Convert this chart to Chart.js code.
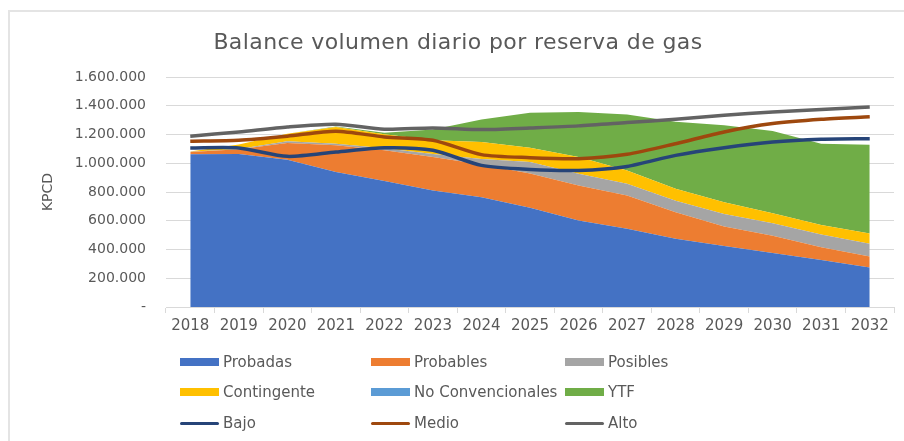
<!DOCTYPE html>
<html>
<head>
<meta charset="utf-8">
<script src="https://cdn.jsdelivr.net/npm/chart.js@4.4.1/dist/chart.umd.min.js"></script>
<style>
	html, body { margin: 0; padding: 0; background: #fff; }
	.wrap { position: relative; width: 904px; height: 441px; overflow: hidden; font-family: 'DejaVu Sans', sans-serif; color: #595959; }
	.frame { position: absolute; left: 8px; top: 10px; right: -4px; bottom: -4px; border-left: 2px solid #e4e4e4; border-top: 2px solid #e4e4e4; }
	.title { position: absolute; left: 6px; top: 29px; width: 904px; text-align: center; font-size: 22px; letter-spacing: 0.4px; }
	#chart { position: absolute; left: 0; top: 0; }
	.item { position: absolute; display: flex; align-items: center; font-size: 15px; white-space: nowrap; transform: translateY(-50%); }
	.swatch { width: 39px; margin-right: 4px; }
</style>
</head>
<body>
<div class="wrap">
	<div class="frame"></div>
	<canvas id="chart" width="904" height="441"></canvas>
	<div class="title">Balance volumen diario por reserva de gas</div>
	<div id="legend"></div>
</div>
<script>
const years = ['2018', '2019', '2020', '2021', '2022', '2023', '2024', '2025', '2026', '2027', '2028', '2029', '2030', '2031', '2032'];

// areas apiladas
const probadas = [1062000, 1065000, 1025000, 940000, 876000, 810000, 764000, 690000, 601000, 545000, 475000, 425000, 375000, 327000, 275000];
const probables = [16000, 32000, 116000, 185000, 214000, 233000, 228000, 238000, 244000, 230000, 184000, 135000, 121000, 88000, 77000];
const posibles = [2000, 3000, 12000, 11000, 15000, 22000, 38000, 80000, 82000, 82000, 81000, 87000, 87000, 90000, 88000];
const contingente = [2000, 30000, 53000, 117000, 97000, 95000, 118000, 100000, 116000, 93000, 82000, 82000, 70000, 65000, 72000];
const noConvencionales = [0, 0, 0, 0, 0, 0, 0, 0, 0, 0, 0, 0, 0, 0, 0];
const ytf = [0, 0, 0, 2000, 10000, 75000, 157000, 244000, 314000, 389000, 466000, 536000, 571000, 566000, 616000];

// escenarios de demanda
const bajo = [1106000, 1106000, 1048000, 1078000, 1108000, 1090000, 985000, 957000, 950000, 978000, 1055000, 1108000, 1148000, 1167000, 1171000];
const medio = [1153000, 1160000, 1188000, 1223000, 1183000, 1160000, 1060000, 1039000, 1032000, 1062000, 1136000, 1218000, 1276000, 1306000, 1323000];
const alto = [1188000, 1218000, 1253000, 1272000, 1237000, 1246000, 1234000, 1246000, 1260000, 1283000, 1306000, 1334000, 1357000, 1374000, 1392000];

const legendCols = [180, 371, 565];
const legendRows = [362, 392, 423];

function formatThousands(value) {
	if (value === 0) return '-';
	return String(value).replace(/\B(?=(\d{3})+(?!\d))/g, '.');
}

function area(label, data, color, fill) {
	return {
		label: label,
		data: data,
		backgroundColor: color,
		borderColor: 'rgba(0,0,0,0)',
		borderWidth: 0,
		pointRadius: 0,
		fill: fill,
		stack: 'reservas',
		order: 1,
		kind: 'area',
	};
}

function line(label, data, color) {
	return {
		label: label,
		data: data,
		backgroundColor: color,
		borderColor: color,
		borderWidth: 3.5,
		pointRadius: 0,
		fill: false,
		tension: 0.25,
		stack: label,
		order: 0,
		kind: 'line',
	};
}

function buildLegend(chart) {
	const el = document.getElementById('legend');
	chart.data.datasets.forEach((ds, i) => {
		const item = document.createElement('div');
		item.className = 'item';
		item.style.left = legendCols[i % 3] + 'px';
		item.style.top = legendRows[Math.floor(i / 3)] + 'px';
		const sw = document.createElement('span');
		sw.className = 'swatch';
		sw.style.height = ds.kind === 'line' ? '3px' : '8px';
		sw.style.background = ds.kind === 'line' ? ds.borderColor : ds.backgroundColor;
		if (ds.kind === 'line') sw.style.borderRadius = '2px';
		item.appendChild(sw);
		item.appendChild(document.createTextNode(ds.label));
		el.appendChild(item);
	});
}

const ctx = document.getElementById('chart').getContext('2d');
const chart = new Chart(ctx, {
	type: 'line',
	data: {
		labels: years,
		datasets: [
			area('Probadas', probadas, '#4472C4', 'origin'),
			area('Probables', probables, '#ED7D31', '-1'),
			area('Posibles', posibles, '#A5A5A5', '-1'),
			area('Contingente', contingente, '#FFC000', '-1'),
			area('No Convencionales', noConvencionales, '#5B9BD5', '-1'),
			area('YTF', ytf, '#70AD47', '-1'),
			line('Bajo', bajo, '#264478'),
			line('Medio', medio, '#9E480E'),
			line('Alto', alto, '#636363'),
		],
	},
	options: {
		responsive: false,
		animation: false,
		layout: {
			padding: { left: 36, right: 10, top: 77, bottom: 102 },
		},
		plugins: {
			legend: { display: false },
			tooltip: { enabled: false },
		},
		scales: {
			x: {
				offset: true,
				grid: {
					offset: true,
					drawOnChartArea: false,
					drawTicks: true,
					tickLength: 6,
					color: '#d9d9d9',
				},
				border: { color: '#d9d9d9' },
				ticks: {
					color: '#595959',
					font: { family: 'DejaVu Sans', size: 15 },
					padding: 4,
					maxRotation: 0,
					autoSkip: false,
				},
			},
			y: {
				stacked: true,
				min: 0,
				max: 1600000,
				afterFit: (scale) => {
					scale.width = 130;
				},
				grid: {
					color: '#d9d9d9',
					drawTicks: false,
				},
				border: { display: false },
				ticks: {
					stepSize: 200000,
					color: '#595959',
					font: { family: 'DejaVu Sans', size: 14 },
					padding: 20,
					callback: (value) => formatThousands(value),
				},
				title: {
					display: true,
					text: 'KPCD',
					color: '#595959',
					font: { family: 'DejaVu Sans', size: 14 },
					padding: { top: 4, bottom: 4 },
				},
			},
		},
	},
});

buildLegend(chart);
</script>
</body>
</html>
